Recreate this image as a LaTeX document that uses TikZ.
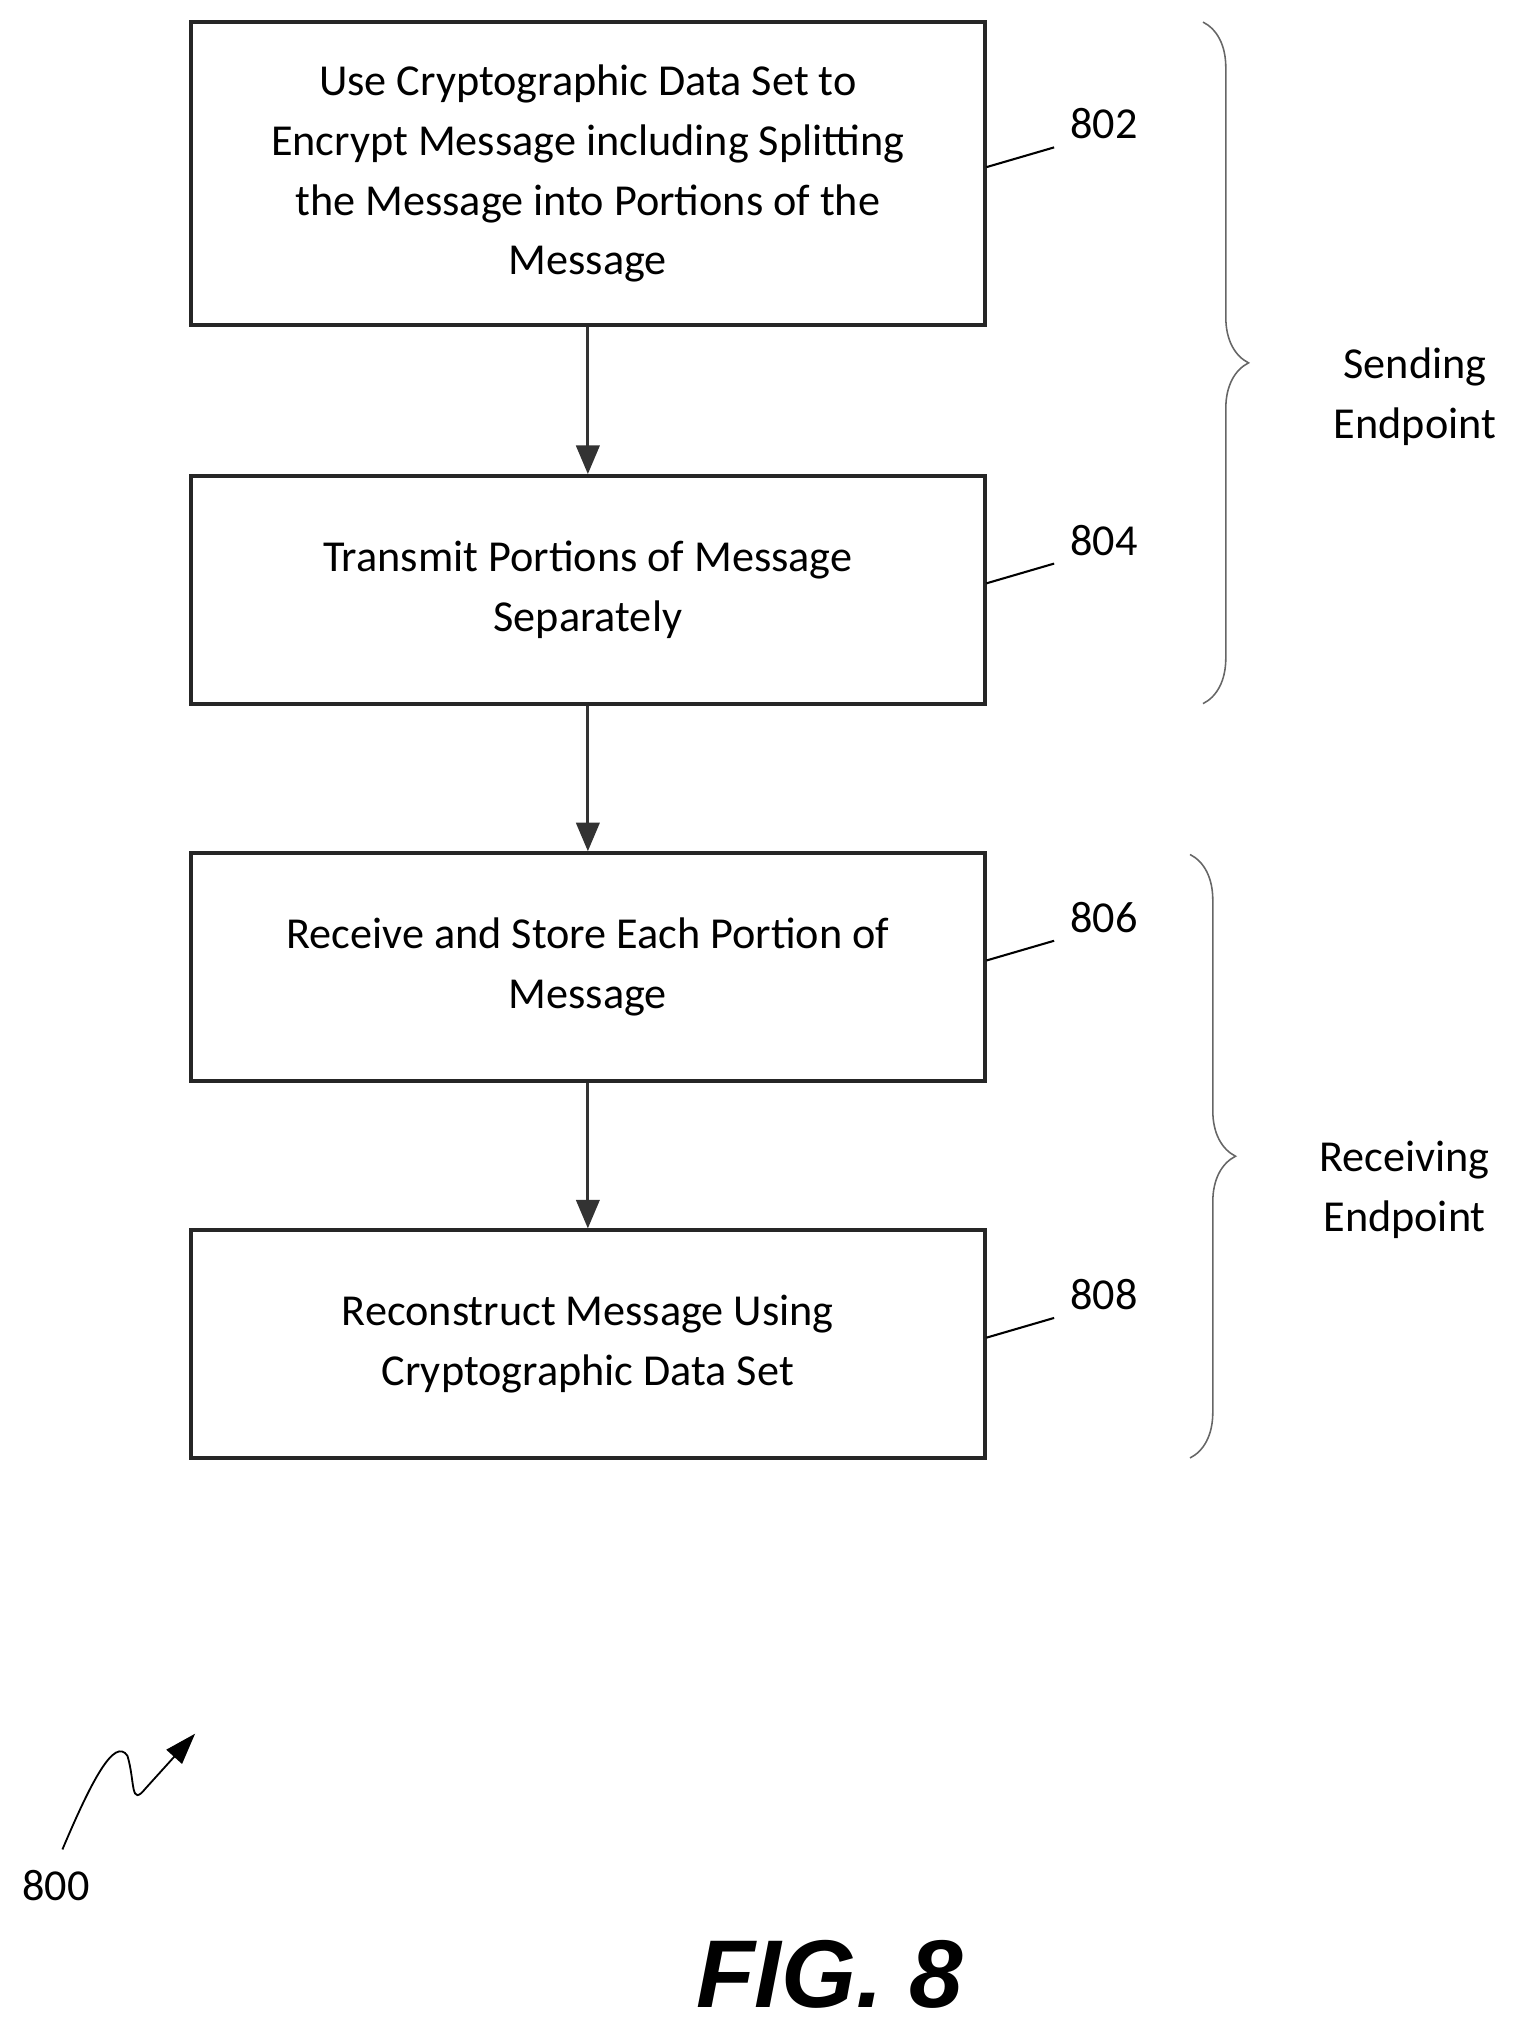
\documentclass[tikz,border=0pt]{standalone}
\usepackage{fontspec}
\setmainfont{Carlito}
\newfontfamily\figfont{Liberation Sans}
\usetikzlibrary{arrows.meta, calc, positioning, decorations.pathreplacing}
\tikzset{%
  every path/.style={line width=2.2pt},
    edge/.style={%
        ->,
        >={Triangle[length=22pt, width=18pt]},
        black!80,
    },
    action/.style={%
        rectangle,
        draw=black!85, line width=3pt,
        minimum width=610pt,
        font=\fontsize{34}{46}\selectfont,
        align=center,
    },
    refnum/.style={%
        font=\fontsize{34}{46}\selectfont,
        anchor=west,
    },
    leader/.style={%
        line width=1.6pt,
    },
    brace/.style={%
        decorate, decoration={brace, amplitude=35pt},
        line width=1.2pt, black!60,
    },
    side/.style={%
        font=\fontsize{34}{46}\selectfont,
        align=center,
    },
}

\begin{document}
\begin{tikzpicture}[x=1pt, y=-1pt]
  \useasboundingbox (0,0) rectangle (1166,1557);

  \node [action, minimum height=233pt] at (452,133.5) (encrypt) {Use Cryptographic Data Set to\\Encrypt Message including Splitting\\the Message into Portions of the\\Message};
  \node [action, minimum height=175pt] at (452,453.5) (transmit) {Transmit Portions of Message\\Separately};
  \node [action, minimum height=175pt] at (452,743.5) (receive) {Receive and Store Each Portion of\\Message};
  \node [action, minimum height=175pt] at (452,1033.5) (rebuild) {Reconstruct Message Using\\Cryptographic Data Set};

  \draw[edge] (encrypt) -- (transmit);
  \draw[edge] (transmit) -- (receive);
  \draw[edge] (receive) -- (rebuild);

  % reference numerals
  \foreach \blk/\num in {encrypt/802, transmit/804, receive/806, rebuild/808} {
    \node [refnum, above right=22pt and 60pt of \blk.east] (n\num) {\num};
    \draw[leader] ($(\blk.east)+(0,-5)$) -- ($(n\num.west)+(-8,18)$);
  }

  % endpoint braces
  \coordinate (send_top) at (925,17);
  \coordinate (send_bot) at (925,541);
  \coordinate (recv_top) at (915,657);
  \coordinate (recv_bot) at (915,1121);
  \draw[brace] (send_top) -- (send_bot);
  \draw[brace] (recv_top) -- (recv_bot);
  \node [side] at (1088,305) (sending) {Sending\\Endpoint};
  \node [side] at (1080,915) (receiving) {Receiving\\Endpoint};

  % figure label
  \node [font=\fontsize{34}{46}\selectfont] at (43,1450) (fig_num) {800};
  \coordinate (fig_tip) at (150,1333);
  \draw[-{Triangle[length=24pt, width=16pt]}, line width=1.4pt]
    (48,1422) .. controls (70,1370) and (88,1335) .. (98,1350)
    .. controls (104,1370) and (100,1390) .. (112,1375) -- (fig_tip);
  \node [font=\figfont\bfseries\itshape\fontsize{74}{74}\selectfont] at (638,1518) (fig) {FIG. 8};
\end{tikzpicture}
\end{document}
